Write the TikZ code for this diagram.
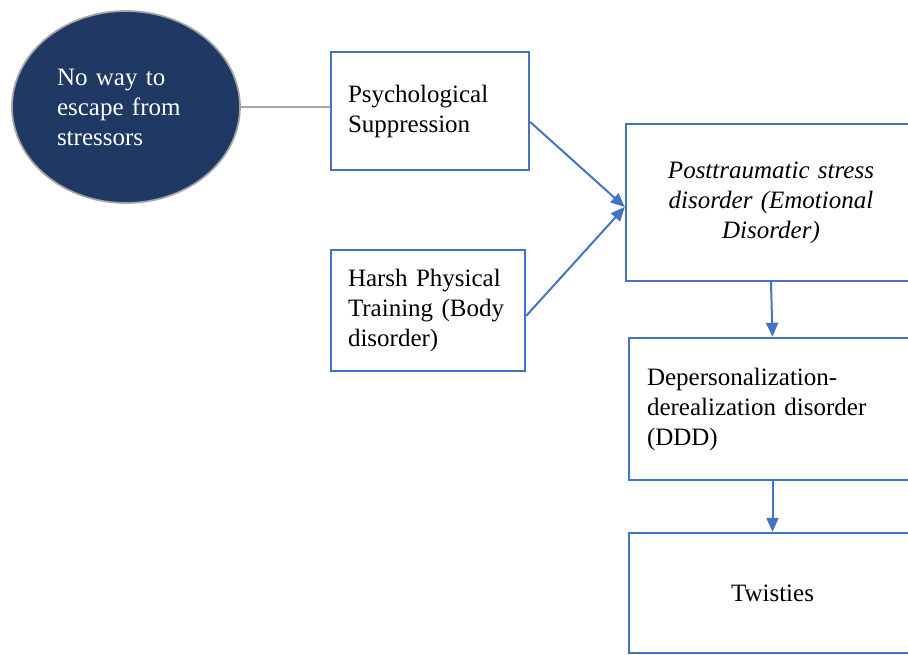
\documentclass[tikz,border=0pt]{standalone}
\usepackage{fontspec}
\setmainfont{Liberation Serif}
\usetikzlibrary{arrows.meta,shapes.geometric}
\definecolor{navy}{HTML}{1F3864}
\definecolor{boxblue}{HTML}{4472C4}
\definecolor{linegray}{HTML}{A6A6A6}
\tikzset{
  txt/.style={font=\fontsize{18.75}{22.5}\selectfont},
  boxnode/.style={draw=boxblue, line width=1.8pt, rectangle, txt, inner ysep=0pt},
  arr/.style={draw=boxblue, line width=1.5pt, -{Triangle[length=10.5pt,width=9pt]}}
}
\begin{document}
\begin{tikzpicture}[x=0.75pt,y=-0.75pt]
\useasboundingbox (0,0) rectangle (908,655);
\node[ellipse, fill=navy, draw=linegray, line width=1.3pt, minimum width=171pt, minimum height=144pt,
      inner sep=0pt, text=white, txt, align=left, text width=103.5pt] (e) at (126,107)
      {No way to\\escape from\\stressors};
\node[boxnode, minimum width=148.5pt, minimum height=88.5pt, inner xsep=12.75pt, text width=123pt, align=left]
      (b1) at (430,111) {Psychological\\Suppression};
\node[boxnode, minimum width=145.5pt, minimum height=90.75pt, inner xsep=12.75pt, text width=120pt, align=left]
      (b2) at (428,310.5) {Harsh Physical\\Training (Body\\disorder)};
\node[boxnode, minimum width=217.5pt, minimum height=117.75pt, inner xsep=13.75pt, text width=190pt, align=center]
      (b3) at (771,202.5) {\itshape Posttraumatic stress\\ \itshape disorder (Emotional\\ \itshape Disorder)};
\node[boxnode, minimum width=215.25pt, minimum height=106.5pt, inner xsep=13.5pt, text width=188.25pt, align=left]
      (b4) at (772.5,409) {Depersonalization-\\derealization disorder\\(DDD)};
\node[boxnode, minimum width=215.25pt, minimum height=90pt, inner xsep=13.5pt, text width=188.25pt, align=center]
      (b5) at (772.5,593) {Twisties};
\draw[linegray, line width=2pt] (e.east) -- (e.east -| b1.west);
\draw[arr] ([yshift=-8.25pt]b1.east) -- ([yshift=-3.4pt]b3.west);
\draw[arr] ([yshift=-4pt]b2.east) -- ([yshift=-3.4pt]b3.west);
\draw[arr] (b3.south) -- (b4.north);
\draw[arr] (b4.south) -- (b5.north);
\end{tikzpicture}
\end{document}
